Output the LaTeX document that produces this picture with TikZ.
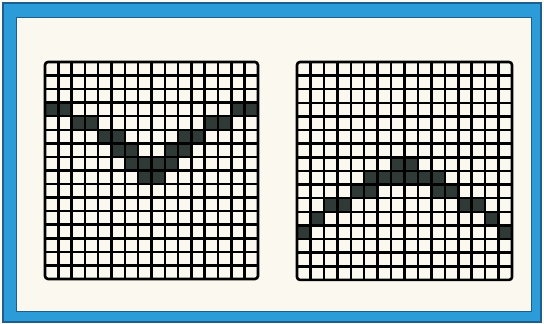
\documentclass[tikz,border=0pt]{standalone}
\usepackage{xcolor}
\usepackage{tikz}
\definecolor{frameblue}{HTML}{2C9CD8}
\definecolor{frameedge}{HTML}{1E5E8C}
\definecolor{paper}{HTML}{FBF8F0}
\definecolor{cellink}{HTML}{2F3A37}

\begin{document}
\begin{tikzpicture}[
    x=1pt, y=-1pt,
    outerframe/.style={fill=frameblue, draw=frameedge, line width=1.2pt},
    panel/.style={fill=paper, draw=frameedge, line width=0.8pt},
    gridline/.style={draw=black, line width=2.5pt},
    gridedge/.style={draw=black, line width=2.6pt, rounded corners=3pt},
    cell/.style={fill=cellink}
  ]
    \useasboundingbox (0,0) rectangle (544,324);
    \fill[paper!60!white] (0,0) rectangle (544,324);
    \draw[outerframe] (3,3) rectangle (541,322);
    \draw[panel] (16,17) rectangle (531,311);

    % left grid: the V
    \begin{scope}[shift={(45,62)}, x=13.31pt, y=-13.56pt]
      \foreach \r/\cols in {3/{0,1,14,15}, 4/{2,3,12,13}, 5/{4,5,10,11},
                            6/{5,6,9,10}, 7/{6,7,8,9}, 8/{7,8}}
        \foreach \c in \cols
          \fill[cell] (\c,\r) rectangle ++(1,1);
      \foreach \i in {1,...,15} {
        \draw[gridline] (\i,0) -- (\i,16);
        \draw[gridline] (0,\i) -- (16,\i);
      }
      \draw[gridedge] (0,0) rectangle (16,16);
    \end{scope}

    % right grid: the arch
    \begin{scope}[shift={(297,62)}, x=13.44pt, y=-13.62pt]
      \foreach \r/\cols in {7/{7,8}, 8/{5,6,7,8,9,10}, 9/{4,5,10,11},
                            10/{2,3,12,13}, 11/{1,14}, 12/{0,15}}
        \foreach \c in \cols
          \fill[cell] (\c,\r) rectangle ++(1,1);
      \foreach \i in {1,...,15} {
        \draw[gridline] (\i,0) -- (\i,16);
        \draw[gridline] (0,\i) -- (16,\i);
      }
      \draw[gridedge] (0,0) rectangle (16,16);
    \end{scope}
\end{tikzpicture}
\end{document}
